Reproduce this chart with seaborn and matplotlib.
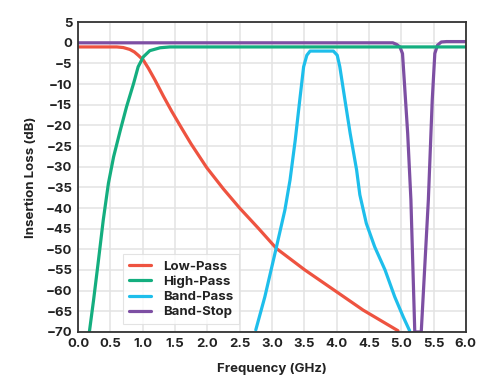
import matplotlib
matplotlib.use("Agg")
import matplotlib.pyplot as plt
import seaborn as sns
import pandas as pd
import numpy as np

# Data
lp_x = [0.0, 0.6, 0.7, 0.8, 0.87, 0.93, 1.01, 1.09, 1.19, 1.32, 1.45, 1.6, 1.75, 1.99, 2.25, 2.5, 2.79,
        3.07, 3.51, 4.03, 4.41, 4.95]
lp_y = [-1.0, -1.0, -1.15, -1.6, -2.2, -3.0, -4.2, -6.2, -9.0, -12.9, -16.6, -20.6, -24.5, -30.2, -35.4,
        -40.0, -44.9, -49.8, -55.0, -60.6, -64.7, -69.7]

hp_x = [0.175, 0.24, 0.31, 0.39, 0.47, 0.55, 0.65, 0.75, 0.86, 0.93, 1.01, 1.11, 1.27, 1.42, 6.0]
hp_y = [-70.0, -62.3, -53.4, -42.9, -34.0, -27.6, -21.4, -15.5, -9.8, -5.8, -3.4, -1.9, -1.2, -1.0, -1.0]

bp_x = [2.75, 2.89, 3.07, 3.2, 3.28, 3.36, 3.43, 3.49, 3.54, 3.59, 3.95, 4.01, 4.05, 4.13, 4.21, 4.31,
        4.36, 4.46, 4.59, 4.75, 4.9, 5.03, 5.13]
bp_y = [-69.5, -61.5, -49.4, -40.5, -33.2, -23.6, -13.9, -5.8, -3.0, -2.0, -2.0, -3.0, -5.8, -13.9, -21.9,
        -30.8, -36.8, -43.7, -49.4, -55.0, -61.5, -66.3, -69.7]

bs_x = [0.0, 4.87, 4.93, 4.98, 5.02, 5.05, 5.1, 5.15, 5.21, 5.31, 5.42, 5.48, 5.52, 5.56, 5.62, 5.7, 6.0]
bs_y = [0.0, 0.0, -0.4, -1.0, -2.6, -9.8, -21.9, -38.0, -70.0, -70.0, -38.0, -13.9, -2.6, -0.6, 0.2, 0.3, 0.3]

names = ["Low-Pass", "High-Pass", "Band-Pass", "Band-Stop"]
colors = ["#EE5340", "#14AE7F", "#1EBEEB", "#7D4FA3"]

series = {
    "Low-Pass": (lp_x, lp_y),
    "High-Pass": (hp_x, hp_y),
    "Band-Pass": (bp_x, bp_y),
    "Band-Stop": (bs_x, bs_y),
}

sns.set_theme(style="whitegrid")
plt.rcParams['font.family'] = ['Inter', 'DejaVu Sans']

fig = plt.figure(figsize=(4.94, 3.82), dpi=100)
ax = fig.add_axes([0.158, 0.131, 0.785, 0.811])

draw_order = ["Band-Stop", "Low-Pass", "High-Pass", "Band-Pass"]
for n in draw_order:
    x, y = series[n]
    df = pd.DataFrame({"x": x, "y": y})
    c = colors[names.index(n)]
    sns.lineplot(data=df, x="x", y="y", ax=ax, color=c, linewidth=2.3,
                 sort=False, estimator=None, label=n)
for ln in ax.get_lines():
    ln.set_solid_joinstyle('round')
    ln.set_solid_capstyle('round')

ax.set_xlim(0, 6)
ax.set_ylim(-70, 5)
ax.set_xticks(np.arange(0, 6.01, 0.5))
ax.set_yticks(np.arange(-70, 5.1, 5))
ax.set_xticklabels([f"{v:.1f}" for v in np.arange(0, 6.01, 0.5)])
ax.set_yticklabels([f"{int(v)}".replace("-", "\u2212") for v in np.arange(-70, 5.1, 5)])
ax.tick_params(axis='both', labelsize=9.5, length=0, pad=4)
for lab in ax.get_xticklabels() + ax.get_yticklabels():
    lab.set_fontweight('bold')
    lab.set_color('#222222')

ax.grid(True, color='#e3e3e3', linewidth=1.1)
for s in ax.spines.values():
    s.set_visible(True)
    s.set_color('#333333')
    s.set_linewidth(1.3)

ax.set_xlabel("Frequency (GHz)", fontsize=9.5, fontweight='bold', color='#222222', labelpad=10)
ax.set_ylabel("Insertion Loss (dB)", fontsize=9.5, fontweight='bold', color='#222222', labelpad=6)

h, l = ax.get_legend_handles_labels()
hd = dict(zip(l, h))
leg = ax.legend([hd[n] for n in names], names, loc='lower left',
                bbox_to_anchor=(0.105, 0.012), frameon=True, fancybox=False,
                fontsize=9.5, handlelength=1.7, borderpad=0.45, labelspacing=0.22,
                handletextpad=0.9, borderaxespad=0.3)
leg.get_frame().set_edgecolor('#dddddd')
leg.get_frame().set_linewidth(0.8)
for t in leg.get_texts():
    t.set_fontweight('bold')
    t.set_color('#222222')

fig.savefig("out.png", dpi=100)
